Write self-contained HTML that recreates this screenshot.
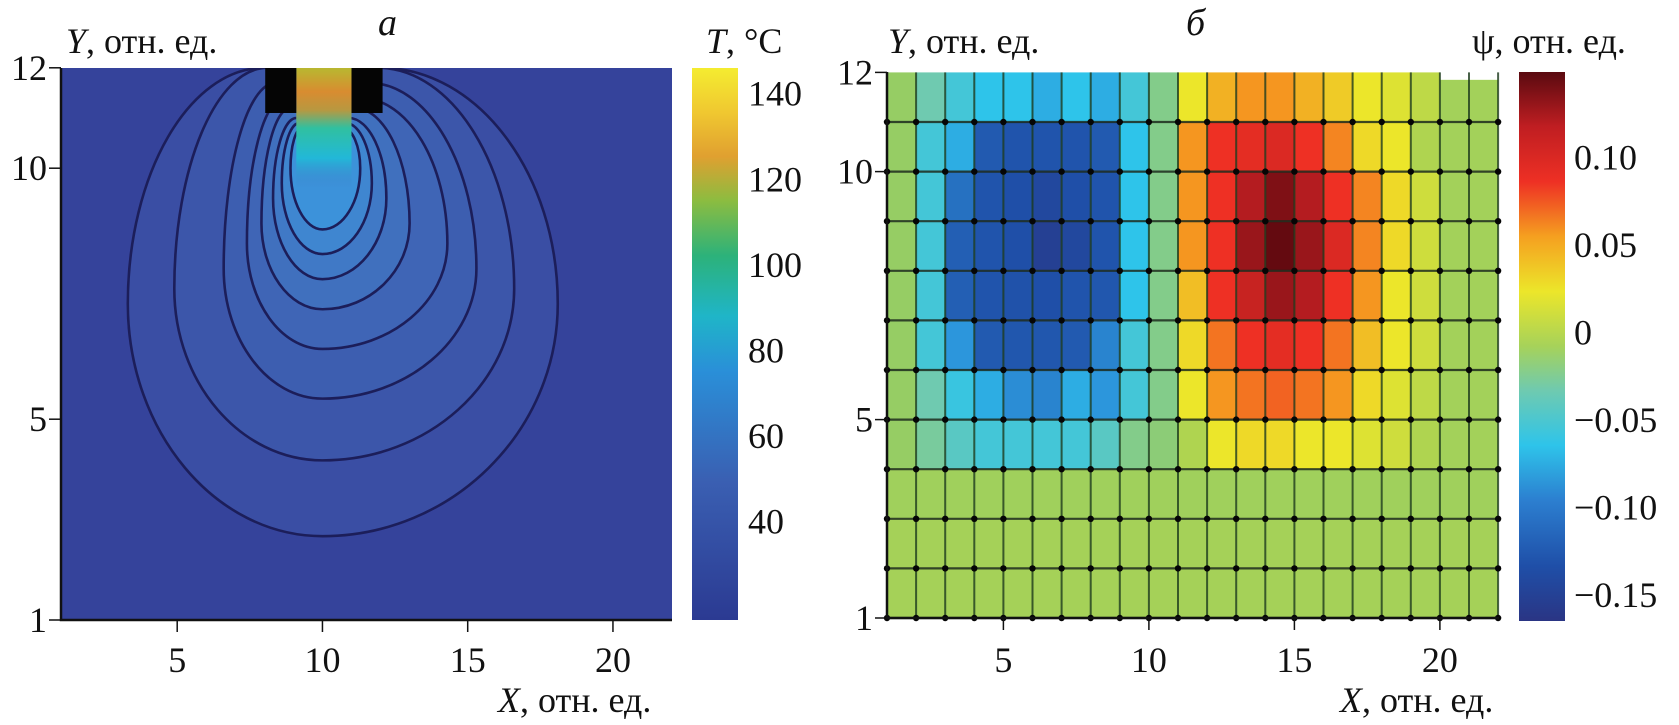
<!DOCTYPE html>
<html><head><meta charset="utf-8">
<style>
html,body{margin:0;padding:0;background:#fff;}
svg{display:block;font-family:"Liberation Serif",serif;}
text{fill:#111;}
</style></head>
<body>
<svg id="fig" width="1679" height="725" viewBox="0 0 1679 725" xmlns="http://www.w3.org/2000/svg">
<defs>
  <linearGradient id="cbarA" x1="0" y1="1" x2="0" y2="0">
    <stop offset="0" stop-color="#2b3a92"/>
    <stop offset="0.25" stop-color="#3a5fb2"/>
    <stop offset="0.45" stop-color="#2a8fd8"/>
    <stop offset="0.55" stop-color="#1fb5c8"/>
    <stop offset="0.66" stop-color="#2cb27a"/>
    <stop offset="0.76" stop-color="#8cbc40"/>
    <stop offset="0.84" stop-color="#e0a030"/>
    <stop offset="0.92" stop-color="#f0c830"/>
    <stop offset="1" stop-color="#f4ec30"/>
  </linearGradient>
  <linearGradient id="cbarB" x1="0" y1="1" x2="0" y2="0">
    <stop offset="0" stop-color="#2a3584"/>
    <stop offset="0.1" stop-color="#1f4fa8"/>
    <stop offset="0.22" stop-color="#2c7fd0"/>
    <stop offset="0.32" stop-color="#2ec4ea"/>
    <stop offset="0.42" stop-color="#6fcab0"/>
    <stop offset="0.5" stop-color="#a6d25a"/>
    <stop offset="0.6" stop-color="#ece62a"/>
    <stop offset="0.7" stop-color="#f5a020"/>
    <stop offset="0.8" stop-color="#ee3024"/>
    <stop offset="0.9" stop-color="#c01e22"/>
    <stop offset="1" stop-color="#5a0a10"/>
  </linearGradient>
  <linearGradient id="srcGrad" x1="0" y1="0" x2="0" y2="1">
    <stop offset="0" stop-color="#b8b830"/>
    <stop offset="0.2" stop-color="#d88c30"/>
    <stop offset="0.35" stop-color="#b89840"/>
    <stop offset="0.5" stop-color="#30c0a0"/>
    <stop offset="0.75" stop-color="#22b8d8"/>
    <stop offset="1" stop-color="#3f7cc8" stop-opacity="0"/>
  </linearGradient>
  <clipPath id="clipA"><rect x="61" y="68" width="611" height="552"/></clipPath>
</defs>
<g id="panelA"></g>
<g id="panelB"></g>
<text x="66" y="53" font-size="36"><tspan font-style="italic">Y</tspan>, отн. ед.</text>
<text x="378" y="35" font-size="38" font-style="italic">а</text>
<text x="706" y="53" font-size="36"><tspan font-style="italic">T</tspan>, °C</text>
<text x="498" y="712" font-size="36"><tspan font-style="italic">X</tspan>, отн. ед.</text>
<text x="888" y="53" font-size="36"><tspan font-style="italic">Y</tspan>, отн. ед.</text>
<text x="1186" y="35" font-size="38" font-style="italic">б</text>
<text x="1472" y="53" font-size="36">ψ, отн. ед.</text>
<text x="1340" y="712" font-size="36"><tspan font-style="italic">X</tspan>, отн. ед.</text>
</svg>
<script>
// ---------- Panel A data ----------
const aXTicks = [5, 10, 15, 20];
const aYTicks = [1, 5, 10, 12];
const aCbarTicks = [40, 60, 80, 100, 120, 140];
const aCbarMin = 17, aCbarMax = 146;
const contourTop    = [12.0, 12.0, 11.7, 11.4, 11.2, 11.0, 10.9, 10.8];
const contourTopL   = [8.0, 8.1, 8.4, 8.7, 8.9, 9.1, 9.2, 9.3];
const contourTopR   = [12.0, 11.9, 11.6, 11.3, 11.1, 10.9, 10.8, 10.7];
const contourLeft   = [3.3, 4.9, 6.6, 7.4, 7.9, 8.3, 8.6, 8.9];
const contourRight  = [18.1, 16.6, 15.3, 14.3, 13.0, 12.2, 11.7, 11.3];
const contourMid    = [7.3, 7.6, 8.0, 8.5, 8.9, 9.4, 9.7, 10.0];
const contourBottom = [2.67, 4.18, 5.41, 6.40, 7.19, 7.79, 8.29, 8.78];
const contourFill   = ['#3a4ea4','#3c56aa','#3d5eb0','#3f65b6','#4070be','#4079c6','#3f86d0','#3c92da'];

// ---------- Panel B data ----------
const bXTicks = [5, 10, 15, 20];
const bYTicks = [1, 5, 10, 12];
const bCbarTicks = [0.10, 0.05, 0, -0.05, -0.10, -0.15];
const bCbarLabels = ['0.10', '0.05', '0', '\u22120.05', '\u22120.10', '\u22120.15'];
const bCbarMin = -0.165, bCbarMax = 0.149;
const psiRow1  = [0,-0.02,-0.04,-0.05,-0.05,-0.06,-0.05,-0.06,-0.04,-0.01,0.03,0.05,0.06,0.06,0.05,0.04,0.03,0.025,0.015,0.005,0.005];
const psiRow2  = [0,-0.04,-0.06,-0.11,-0.12,-0.12,-0.12,-0.11,-0.05,-0.01,0.06,0.09,0.095,0.10,0.09,0.065,0.035,0.03,0.01,0.005,0.005];
const psiRow3  = [0,-0.04,-0.09,-0.12,-0.13,-0.14,-0.13,-0.12,-0.05,-0.01,0.06,0.09,0.12,0.14,0.12,0.09,0.065,0.035,0.02,0.005,0.005];
const psiRow4  = [0,-0.04,-0.10,-0.12,-0.13,-0.15,-0.14,-0.12,-0.05,-0.01,0.06,0.09,0.13,0.15,0.13,0.10,0.065,0.035,0.02,0.005,0.005];
const psiRow5  = [0,-0.04,-0.10,-0.12,-0.125,-0.13,-0.12,-0.115,-0.05,-0.01,0.045,0.09,0.11,0.13,0.12,0.09,0.06,0.03,0.02,0.005,0.005];
const psiRow6  = [0,-0.04,-0.07,-0.11,-0.115,-0.115,-0.11,-0.08,-0.04,-0.01,0.035,0.07,0.09,0.095,0.09,0.07,0.045,0.03,0.02,0.005,0.005];
const psiRow7  = [0,-0.02,-0.045,-0.06,-0.075,-0.08,-0.06,-0.07,-0.04,-0.01,0.03,0.06,0.07,0.075,0.07,0.06,0.035,0.025,0.015,0.005,0.005];
const psiRow8  = [0,-0.015,-0.03,-0.04,-0.04,-0.04,-0.04,-0.03,-0.01,-0.005,0.01,0.03,0.035,0.035,0.03,0.03,0.025,0.02,0.01,0.005,0.005];
const psiRow9  = [0.004,0.004,0.004,0.004,0.004,0.004,0.004,0.004,0.004,0.004,0.004,0.004,0.004,0.004,0.004,0.004,0.004,0.004,0.004,0.004,0.004];
const psiRow10 = [0.006,0.006,0.006,0.006,0.006,0.006,0.006,0.006,0.006,0.006,0.006,0.006,0.006,0.006,0.006,0.006,0.006,0.006,0.006,0.006,0.006];
const psiRow11 = [0.006,0.006,0.006,0.006,0.006,0.006,0.006,0.006,0.006,0.006,0.006,0.006,0.006,0.006,0.006,0.006,0.006,0.006,0.006,0.006,0.006];
const psiRows = [psiRow1,psiRow2,psiRow3,psiRow4,psiRow5,psiRow6,psiRow7,psiRow8,psiRow9,psiRow10,psiRow11];

const NS = 'http://www.w3.org/2000/svg';
function mk(tag, attrs, parent){ const e=document.createElementNS(NS,tag); for(const k in attrs) e.setAttribute(k,attrs[k]); parent.appendChild(e); return e; }

const xa = v => 61 + (v-1)*29.05;
const ya = v => 620 - (v-1)*50.2;
const xb = v => 887 + (v-1)*29.1;
const yb = v => 618 - (v-1)*49.6;
const cA = v => 620 - (v-aCbarMin)/(aCbarMax-aCbarMin)*552;
const cB = v => 621 - (v-bCbarMin)/(bCbarMax-bCbarMin)*549;

function lerpColor(stops, v){
  if (v <= stops[0][0]) return stops[0][1];
  for(let i=1;i<stops.length;i++){
    if (v <= stops[i][0]){
      const t=(v-stops[i-1][0])/(stops[i][0]-stops[i-1][0]);
      const a=stops[i-1][1], b=stops[i][1];
      return [Math.round(a[0]+(b[0]-a[0])*t), Math.round(a[1]+(b[1]-a[1])*t), Math.round(a[2]+(b[2]-a[2])*t)];
    }
  }
  return stops[stops.length-1][1];
}
const jet = [[-0.165,[42,53,132]],[-0.13,[31,79,168]],[-0.10,[35,95,180]],[-0.07,[44,150,220]],[-0.05,[46,196,234]],[-0.02,[111,202,176]],[0,[150,205,100]],[0.01,[175,212,80]],[0.03,[236,230,42]],[0.06,[245,150,32]],[0.09,[238,48,36]],[0.12,[180,28,32]],[0.15,[100,10,16]]];
function psiColor(v){ const c=lerpColor(jet,v); return 'rgb('+c[0]+','+c[1]+','+c[2]+')'; }

// ================= PANEL A =================
const A = document.getElementById('panelA');
const aBg = mk('rect',{x:61,y:68,width:611,height:552,fill:'#35439b'},A);


const aClip = mk('g',{'clip-path':'url(#clipA)'},A);
for(let i=0;i<contourTop.length;i++){
  const t=contourTop[i], tl=contourTopL[i], tr=contourTopR[i], l=contourLeft[i], r=contourRight[i], m=contourMid[i], b=contourBottom[i];
  const cx=10;
  const d = 'M'+xa(tl)+','+ya(t)+
    ' C'+xa(tl-(tl-l)*0.55)+','+ya(t)+' '+xa(l)+','+ya(m+(t-m)*0.55)+' '+xa(l)+','+ya(m)+
    ' C'+xa(l)+','+ya(m-(m-b)*0.55)+' '+xa(cx-(cx-l)*0.55)+','+ya(b)+' '+xa(cx)+','+ya(b)+
    ' C'+xa(cx+(r-cx)*0.55)+','+ya(b)+' '+xa(r)+','+ya(m-(m-b)*0.55)+' '+xa(r)+','+ya(m)+
    ' C'+xa(r)+','+ya(m+(t-m)*0.55)+' '+xa(tr+(r-tr)*0.55)+','+ya(t)+' '+xa(tr)+','+ya(t);
  const p = mk('path',{d:d,fill:contourFill[i],stroke:'#1c1e5a','stroke-width':2.6},aClip);
  
  
}
const src = mk('rect',{x:xa(9.1),y:ya(12),width:xa(11)-xa(9.1),height:ya(9.6)-ya(12),fill:'url(#srcGrad)'},aClip);


const srcL = mk('rect',{x:xa(8.03),y:ya(12),width:xa(9.1)-xa(8.03),height:ya(11.1)-ya(12),fill:'#050505'},aClip);


const srcR = mk('rect',{x:xa(11),y:ya(12),width:xa(12.07)-xa(11),height:ya(11.1)-ya(12),fill:'#050505'},aClip);


const aAxis = mk('path',{d:'M61,68 V620 H672',stroke:'#111','stroke-width':2.5,fill:'none'},A);


aXTicks.forEach(v=>{
  const tk=mk('line',{x1:xa(v),x2:xa(v),y1:620,y2:632,stroke:'#111','stroke-width':1.5},A);
  
  
  const tx=mk('text',{x:xa(v),y:672,'font-size':36,'text-anchor':'middle'},A); tx.textContent=v;
  
  
});
aYTicks.forEach(v=>{
  const tk=mk('line',{x1:49,x2:61,y1:ya(v),y2:ya(v),stroke:'#111','stroke-width':1.5},A);
  
  
  const tx=mk('text',{x:47,y:ya(v)+12,'font-size':36,'text-anchor':'end'},A); tx.textContent=v;
  
  
});
const cbA = mk('rect',{x:692,y:68,width:46,height:552,fill:'url(#cbarA)'},A);


aCbarTicks.forEach(v=>{
  const tx=mk('text',{x:748,y:cA(v)+12,'font-size':36},A); tx.textContent=v;
  
  
});

// ================= PANEL B =================
const B = document.getElementById('panelB');
psiRows.forEach((row,ri)=>{
  const y1 = 12-ri;
  row.forEach((v,ci)=>{
    const x0=1+ci;
    let top=y1;
    if (ri===0 && ci>=19) top=11.85;
    const c=mk('rect',{x:xb(x0),y:yb(top),width:xb(x0+1)-xb(x0),height:yb(y1-1)-yb(top),fill:psiColor(v)},B);
    
    
  });
});
for(let x=1;x<=22;x++){
  const l=mk('line',{x1:xb(x),x2:xb(x),y1:yb(12),y2:yb(1),stroke:'#1c3a1c','stroke-width':2,'stroke-opacity':0.8},B);
  
  
}
for(let y=1;y<=11;y++){
  const l=mk('line',{x1:xb(1),x2:xb(22),y1:yb(y),y2:yb(y),stroke:'#1c2a1c','stroke-width':2.2,'stroke-opacity':0.85},B);
  
  
  for(let x=1;x<=22;x++){
    const d=mk('circle',{cx:xb(x),cy:yb(y),r:3.2,fill:'#050505'},B);
    
    
  }
}
const bAxis = mk('path',{d:'M887,72 V618 H1499',stroke:'#111','stroke-width':2.5,fill:'none'},B);


bXTicks.forEach(v=>{
  const tk=mk('line',{x1:xb(v),x2:xb(v),y1:618,y2:630,stroke:'#111','stroke-width':1.5},B);
  
  
  const tx=mk('text',{x:xb(v),y:672,'font-size':36,'text-anchor':'middle'},B); tx.textContent=v;
  
  
});
bYTicks.forEach(v=>{
  const tk=mk('line',{x1:875,x2:887,y1:yb(v),y2:yb(v),stroke:'#111','stroke-width':1.5},B);
  
  
  const tx=mk('text',{x:873,y:yb(v)+12,'font-size':36,'text-anchor':'end'},B); tx.textContent=v;
  
  
});
const cbB = mk('rect',{x:1519,y:72,width:46,height:549,fill:'url(#cbarB)'},B);


bCbarTicks.forEach((v,i)=>{
  const tx=mk('text',{x:1574,y:cB(v)+12,'font-size':36},B); tx.textContent=bCbarLabels[i];
  
  
});
</script>
</body></html>
